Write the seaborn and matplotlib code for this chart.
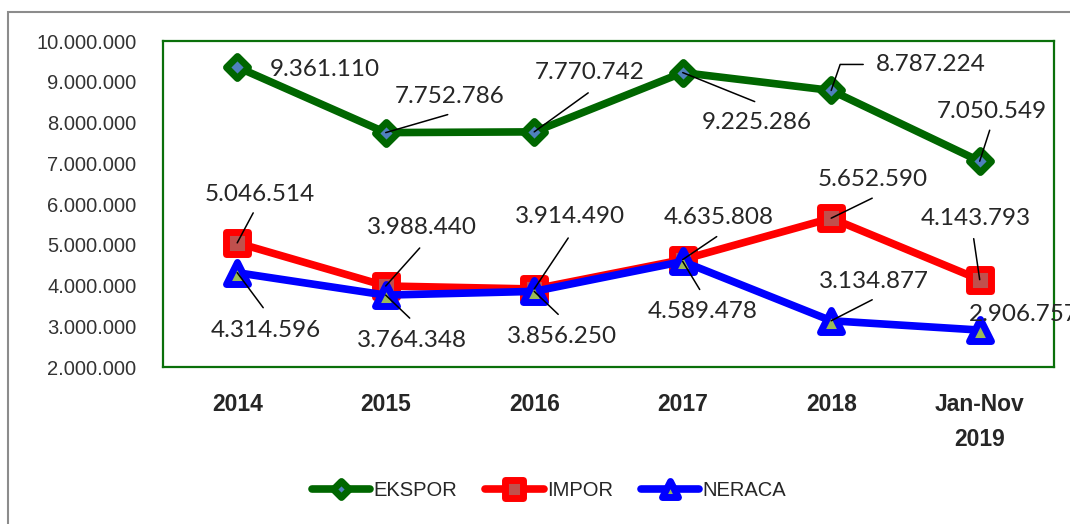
import matplotlib
matplotlib.use("Agg")
import matplotlib.pyplot as plt
from matplotlib.patches import Rectangle
from matplotlib.markers import MarkerStyle
from matplotlib.ticker import FuncFormatter, MultipleLocator
import pandas as pd
import seaborn as sns

# data
years = ['2014', '2015', '2016', '2017', '2018', 'Jan-Nov\n2019']
ekspor = [9361110, 7752786, 7770742, 9225286, 8787224, 7050549]
impor = [5046514, 3988440, 3914490, 4635808, 5652590, 4143793]
neraca = [4314596, 3764348, 3856250, 4589478, 3134877, 2906757]

# label offsets (pixels) and leader line starts, None = no leader
ekspor_txt = [(88, -2), (64, 36), (55, 59), (74, -50), (100, 26), (12, 50)]
ekspor_lead = [None, (62, 18), (54, 39), (72, -29), (32, 26), (10, 31)]
impor_txt = [(23, 48), (36, 58), (36, 72), (36, 42), (42, 39), (-4, 61)]
impor_lead = [(16, 30), (34, 38), (34, 51), (34, 23), (41, 20), (-6, 41)]
neraca_txt = [(29, -58), (26, -45), (28, -45), (20, -50), (43, 39), (44, 16)]
neraca_lead = [(26, -35), (24, -23), (24, -23), (17, -28), (41, 21), None]

df = pd.DataFrame({'tahun': years, 'EKSPOR': ekspor, 'IMPOR': impor, 'NERACA': neraca})

sns.set_style('white')
plt.rcParams['font.family'] = ['Liberation Sans', 'DejaVu Sans']

fig = plt.figure(figsize=(10.7, 5.24), dpi=100)
ax = fig.add_axes([0.1523, 0.2996, 0.8327, 0.6221])

series = [
    ('EKSPOR', '#006600', MarkerStyle('D', joinstyle='round'), 11, '#4F81BD', ekspor_txt, ekspor_lead),
    ('IMPOR', '#FF0000', MarkerStyle('s', joinstyle='round'), 16.5, '#C0504D', impor_txt, impor_lead),
    ('NERACA', '#0000FF', MarkerStyle('^', joinstyle='round'), 15.5, '#9BBB59', neraca_txt, neraca_lead),
]

for name, col, mk, ms, fc, txt, lead in series:
    sns.lineplot(data=df, x='tahun', y=name, ax=ax, sort=False, color=col,
                 lw=5.5, marker=mk, markersize=ms, markeredgecolor=col,
                 markerfacecolor=fc, markeredgewidth=5, label=name)

for name, col, mk, ms, fc, txt, lead in series:
    for i, v in enumerate(df[name]):
        lbl = f"{v:,.0f}".replace(',', '.')
        ax.annotate(lbl, xy=(i, v), xytext=txt[i], textcoords='offset pixels',
                    ha='center', va='center', fontsize=17.5, color='#262626',
                    family=['Lato', 'DejaVu Sans'], annotation_clip=False, zorder=5)
        if lead[i] is not None:
            cs = 'arc3'
            if name == 'EKSPOR' and i == 4:
                cs = 'angle,angleA=0,angleB=71,rad=0'
            ax.annotate('', xy=(i, v), xytext=lead[i], textcoords='offset pixels',
                        arrowprops=dict(arrowstyle='-', color='black', lw=1.1,
                                        shrinkA=0, shrinkB=0, connectionstyle=cs),
                        zorder=5)

ax.set_xlim(-0.5, 5.5)
ax.set_ylim(2000000, 10000000)
ax.yaxis.set_major_locator(MultipleLocator(1000000))
ax.yaxis.set_major_formatter(FuncFormatter(lambda v, p: f"{v:,.0f}".replace(',', '.')))
ax.set_xlabel('')
ax.set_ylabel('')
ax.tick_params(axis='y', length=0, pad=19, labelsize=14.5, labelcolor='#333333')
ax.tick_params(axis='x', length=0, pad=19, labelsize=16.5)
for t in ax.get_xticklabels():
    t.set_fontweight('bold')
    t.set_linespacing(1.65)
for s in ax.spines.values():
    s.set_color('#0a700a')
    s.set_linewidth(1.6)

ax.get_legend().remove()
h, l = ax.get_legend_handles_labels()
fig.legend(h, l, loc='center', bbox_to_anchor=(0.513, 0.063), ncol=3, frameon=False,
           fontsize=14.5, handlelength=2.9, handletextpad=0.15, columnspacing=1.4,
           markerscale=0.75)

fig.patches.append(Rectangle((8 / 1070, -0.1), 1.2, 1.1 - 12 / 524, transform=fig.transFigure,
                             fill=False, edgecolor='#8c8c8c', lw=1.5))

fig.savefig('out.png', dpi=100)
